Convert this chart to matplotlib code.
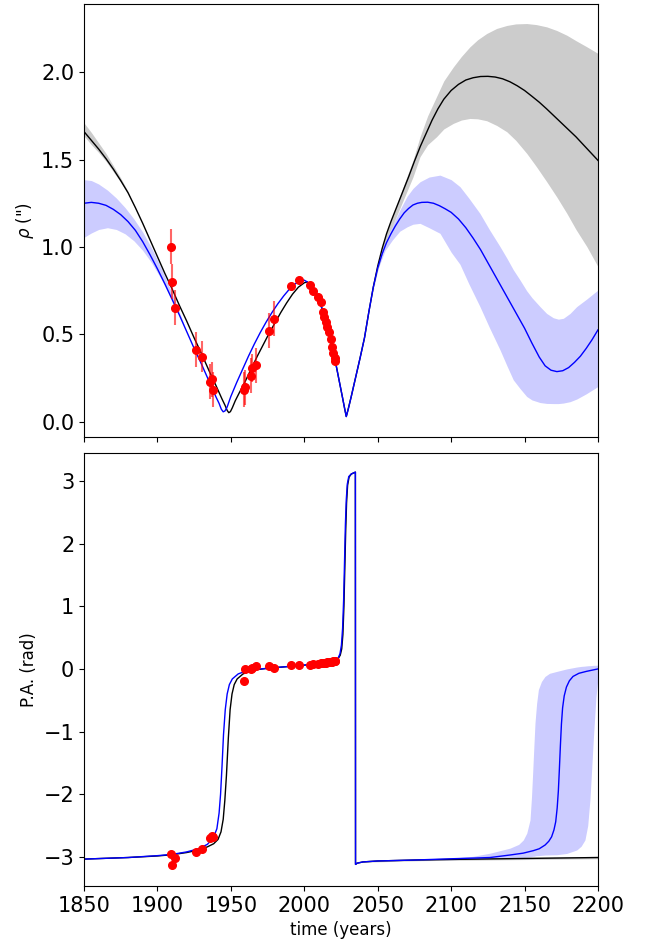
import matplotlib
matplotlib.use("Agg")
import matplotlib.pyplot as plt

# ---------------- separation (rho) ----------------
# best-fit orbit (black)
rho_fit_years = [1850, 1855, 1860, 1865, 1870, 1875, 1880, 1885, 1890, 1895, 1900, 1905,
                 1910, 1915, 1920, 1925, 1930, 1935, 1940, 1944, 1946, 1947.5, 1948.6,
                 1949.7, 1951, 1953, 1956, 1960, 1964, 1968, 1972, 1976, 1980, 1984, 1988,
                 1992, 1996, 2000, 2002, 2004, 2006, 2008, 2010, 2012, 2014, 2016, 2018,
                 2020, 2022, 2024, 2026, 2027.5, 2028.6, 2030, 2032, 2035, 2038, 2041,
                 2044, 2047, 2050, 2053, 2056, 2059, 2063, 2067, 2071, 2075, 2079, 2083,
                 2087, 2091, 2095, 2100, 2105, 2110, 2115, 2120, 2125, 2130, 2135, 2140,
                 2145, 2150, 2155, 2160, 2165, 2170, 2175, 2180, 2185, 2190, 2195, 2200]
rho_fit = [1.66, 1.61, 1.56, 1.505, 1.445, 1.38, 1.31, 1.225, 1.135, 1.04, 0.945, 0.85,
           0.76, 0.665, 0.575, 0.48, 0.39, 0.295, 0.205, 0.13, 0.095, 0.065, 0.052,
           0.058, 0.08, 0.12, 0.17, 0.235, 0.305, 0.375, 0.44, 0.505, 0.565, 0.625, 0.68,
           0.73, 0.77, 0.795, 0.80, 0.78, 0.75, 0.725, 0.695, 0.65, 0.59, 0.53, 0.465,
           0.39, 0.31, 0.225, 0.14, 0.075, 0.03, 0.075, 0.145, 0.255, 0.365, 0.48,
           0.63, 0.77, 0.89, 0.99, 1.075, 1.145, 1.23, 1.315, 1.40, 1.49, 1.575, 1.65,
           1.725, 1.79, 1.845, 1.895, 1.93, 1.955, 1.968, 1.975, 1.976, 1.972, 1.962, 1.945,
           1.922, 1.895, 1.862, 1.828, 1.79, 1.75, 1.71, 1.67, 1.63, 1.585, 1.54, 1.495]

# second orbit solution (blue)
rho_alt_years = [1850, 1855, 1860, 1865, 1870, 1875, 1880, 1885, 1890, 1895, 1900, 1905,
                 1910, 1915, 1920, 1925, 1930, 1935, 1940, 1942, 1943.5, 1944.8, 1946,
                 1947.5, 1950, 1954, 1958, 1962, 1966, 1970, 1974, 1978, 1982, 1986, 1990,
                 1994, 1997, 2000, 2002, 2004, 2006, 2008, 2010, 2012, 2014, 2016, 2018,
                 2020, 2022, 2024, 2026, 2027.5, 2028.6, 2030, 2032, 2035, 2038, 2041,
                 2044, 2047, 2050, 2053, 2056, 2059, 2062, 2065, 2068, 2071, 2074, 2077,
                 2080, 2084, 2088, 2092, 2096, 2100, 2105, 2110, 2115, 2120, 2125, 2130,
                 2135, 2140, 2145, 2150, 2155, 2160, 2164, 2168, 2172, 2176, 2180, 2184,
                 2188, 2192, 2196, 2200]
rho_alt = [1.25, 1.255, 1.25, 1.238, 1.215, 1.185, 1.145, 1.095, 1.03, 0.955, 0.875, 0.79,
           0.70, 0.61, 0.515, 0.42, 0.33, 0.235, 0.14, 0.105, 0.072, 0.057, 0.062,
           0.085, 0.145, 0.225, 0.30, 0.375, 0.445, 0.51, 0.57, 0.625, 0.675, 0.72, 0.76,
           0.79, 0.807, 0.81, 0.80, 0.78, 0.75, 0.725, 0.695, 0.65, 0.59, 0.53, 0.465,
           0.39, 0.31, 0.225, 0.14, 0.075, 0.03, 0.075, 0.145, 0.255, 0.365, 0.48,
           0.63, 0.77, 0.88, 0.96, 1.025, 1.075, 1.12, 1.16, 1.195, 1.22, 1.24, 1.25,
           1.255, 1.256, 1.25, 1.236, 1.218, 1.198, 1.16, 1.11, 1.05, 0.985, 0.91, 0.835,
           0.76, 0.685, 0.61, 0.535, 0.45, 0.37, 0.32, 0.295, 0.287, 0.292, 0.31, 0.34,
           0.375, 0.42, 0.47, 0.526]

# uncertainty envelopes
rho_fit_band_early_years = [1850, 1855, 1860, 1865, 1870, 1875, 1880, 1886]
rho_fit_band_early_hi = [1.71, 1.655, 1.595, 1.535, 1.465, 1.395, 1.318, 1.20]
rho_fit_band_early_lo = [1.635, 1.585, 1.54, 1.49, 1.43, 1.37, 1.305, 1.20]
rho_fit_band_late_years = [2047, 2055, 2060, 2065, 2070, 2074, 2078.8, 2084, 2090, 2095,
                           2101.5, 2107, 2112.8, 2118, 2124.2, 2131, 2137.9, 2144, 2151.5,
                           2158, 2165.1, 2172, 2178.8, 2185, 2192.4, 2200]
rho_fit_band_late_hi = [0.77, 1.06, 1.17, 1.29, 1.405, 1.495, 1.63, 1.75, 1.859, 1.95,
                        2.03, 2.09, 2.145, 2.185, 2.221, 2.25, 2.267, 2.276, 2.278,
                        2.272, 2.259, 2.238, 2.211, 2.18, 2.145, 2.107]
rho_fit_band_late_lo = [0.77, 1.025, 1.12, 1.22, 1.32, 1.40, 1.516, 1.585, 1.63, 1.675,
                        1.707, 1.726, 1.735, 1.733, 1.722, 1.695, 1.659, 1.61, 1.535,
                        1.46, 1.373, 1.285, 1.192, 1.10, 1.002, 0.887]

rho_alt_band_early_years = [1850, 1855, 1860, 1866, 1872, 1878, 1884, 1890, 1896, 1902,
                            1908, 1914, 1918]
rho_alt_band_early_hi = [1.385, 1.38, 1.36, 1.325, 1.28, 1.225, 1.16, 1.085, 0.995, 0.89,
                         0.775, 0.65, 0.56]
rho_alt_band_early_lo = [1.055, 1.08, 1.10, 1.11, 1.10, 1.075, 1.035, 0.98, 0.91, 0.825,
                         0.73, 0.625, 0.555]
rho_alt_band_late_years = [2046, 2050, 2055, 2060, 2065, 2070, 2074, 2078.8, 2085, 2092.4,
                           2100, 2106, 2112, 2119.6, 2126, 2133.3, 2138, 2142.3, 2146.9,
                           2151.4, 2155, 2160.5, 2165, 2169.6, 2173, 2176.4, 2181, 2185.5,
                           2192, 2200]
rho_alt_band_late_hi = [0.71, 0.89, 1.02, 1.12, 1.21, 1.29, 1.335, 1.373, 1.40, 1.411,
                        1.385, 1.345, 1.28, 1.192, 1.10, 1.002, 0.935, 0.87, 0.811,
                        0.75, 0.71, 0.659, 0.62, 0.595, 0.587, 0.592, 0.62, 0.659,
                        0.70, 0.754]
rho_alt_band_late_lo = [0.71, 0.87, 0.98, 1.04, 1.09, 1.115, 1.13, 1.135, 1.11, 1.078,
                        0.97, 0.901, 0.79, 0.659, 0.54, 0.411, 0.32, 0.24, 0.19,
                        0.145, 0.125, 0.11, 0.105, 0.104, 0.104, 0.107, 0.115, 0.13,
                        0.16, 0.202]

# ---------------- position angle ----------------
pa_fit_years = [1850, 1880, 1900, 1910, 1920, 1928, 1934, 1938.3, 1941.3, 1943.3, 1944.8,
                1945.9, 1947.0, 1948.3, 1949.5, 1950.8, 1952.3, 1954.3, 1958.3, 1965, 1975,
                1990, 2000, 2010, 2018, 2021, 2023, 2024.5, 2025.5, 2026.3, 2027, 2027.6,
                2028.2, 2028.8, 2029.5, 2030.5, 2032, 2034.8, 2034.9, 2036, 2040, 2050,
                2075, 2100, 2150, 2200]
pa_fit = [-3.035, -3.01, -2.985, -2.965, -2.93, -2.89, -2.84, -2.79, -2.72, -2.60, -2.40,
          -2.10, -1.70, -1.10, -0.65, -0.40, -0.25, -0.16, -0.08, -0.02, 0.01,
          0.04, 0.06, 0.085, 0.11, 0.13, 0.16, 0.22, 0.32, 0.55, 1.0, 1.6,
          2.2, 2.65, 2.93, 3.06, 3.11, 3.14, -3.12, -3.10, -3.08, -3.065,
          -3.05, -3.04, -3.025, -3.01]

pa_alt_years = [1850, 1880, 1900, 1910, 1920, 1928, 1934, 1938, 1940.5, 1942, 1943, 1944,
                1945, 1946.2, 1947.5, 1949, 1951, 1955, 1962, 1975, 1990, 2000, 2010, 2018,
                2021, 2023, 2024.3, 2025.3, 2026.1, 2026.8, 2027.4, 2028, 2028.6, 2029.3,
                2030.3, 2032, 2034.8, 2034.9, 2036, 2040, 2050, 2075, 2100, 2126.5, 2140,
                2149.1, 2156, 2160, 2164, 2166.5, 2168.4, 2170, 2171.2, 2172.2, 2173,
                2173.7, 2174.4, 2175.1, 2175.9, 2177, 2178.5, 2180.5, 2183, 2187, 2192,
                2196, 2200]
pa_alt = [-3.035, -3.01, -2.98, -2.96, -2.92, -2.87, -2.80, -2.70, -2.55, -2.30, -2.0, -1.55,
          -1.05, -0.65, -0.40, -0.25, -0.16, -0.08, -0.02, 0.01, 0.04, 0.06, 0.085, 0.11,
          0.13, 0.17, 0.24, 0.38, 0.65, 1.1, 1.7, 2.3, 2.7, 2.95,
          3.07, 3.11, 3.14, -3.12, -3.10, -3.08, -3.065, -3.05, -3.03, -3.01, -2.97,
          -2.94, -2.90, -2.87, -2.81, -2.75, -2.68, -2.57, -2.44, -2.22, -1.95,
          -1.60, -1.22, -0.88, -0.62, -0.43, -0.29, -0.19, -0.12, -0.07, -0.04,
          -0.02, 0.0]

pa_fit_band_years = [2040, 2080, 2120, 2160, 2200]
pa_fit_band_hi = [-3.075, -3.04, -3.02, -3.005, -2.99]
pa_fit_band_lo = [-3.085, -3.06, -3.05, -3.04, -3.03]

pa_alt_band_years = [2080, 2100, 2115, 2126.5, 2140.1, 2146, 2149.1, 2151.5, 2153.7, 2154.7,
                     2155.5, 2156.3, 2157.1, 2158.2, 2159.4, 2161.5, 2163.9, 2167, 2171.9,
                     2178.7, 2185.5, 2188.5, 2191.1, 2193, 2194.5, 2195.7, 2196.8, 2198.6,
                     2200]
pa_alt_band_hi = [-3.05, -3.02, -2.99, -2.94, -2.86, -2.80, -2.73, -2.62, -2.41, -2.05,
                  -1.66, -1.25, -0.86, -0.55, -0.33, -0.20, -0.12, -0.07, -0.04,
                  0.0, 0.03, 0.04, 0.045, 0.05, 0.052, 0.055, 0.057, 0.058, 0.06]
pa_alt_band_lo = [-3.055, -3.045, -3.035, -3.025, -3.02, -3.015, -3.01, -3.005, -3.0, -2.995,
                  -2.99, -2.99, -2.985, -2.98, -2.98, -2.975, -2.97, -2.968, -2.965,
                  -2.945, -2.89, -2.83, -2.73, -2.50, -2.09, -1.60, -1.13, -0.45, -0.15]

# ---------------- measurements ----------------
obs_years = [1909.0, 1909.9, 1912.2, 1926.0, 1930.1, 1935.8, 1937.4, 1937.6, 1959.2, 1959.6,
             1963.7, 1964.4, 1967.1, 1976.0, 1979.2, 1991.2, 1996.2, 2003.9, 2005.9, 2009.1,
             2011.2, 2012.5, 2013.4, 2014.6, 2015.7, 2016.6, 2018.0, 2018.9, 2019.8, 2020.9,
             2021.1]
obs_rho = [1.00, 0.80, 0.653, 0.411, 0.373, 0.230, 0.244, 0.183, 0.183, 0.198,
           0.263, 0.305, 0.322, 0.522, 0.590, 0.777, 0.810, 0.783, 0.747, 0.716,
           0.688, 0.630, 0.602, 0.573, 0.545, 0.516, 0.472, 0.430, 0.396, 0.364,
           0.345]
obs_rho_err = [0.10, 0.10, 0.10, 0.10, 0.09, 0.10, 0.10, 0.10, 0.10, 0.10,
               0.10, 0.08, 0.10, 0.10, 0.10, 0.01, 0.01, 0.01, 0.01, 0.01,
               0.01, 0.01, 0.01, 0.01, 0.01, 0.01, 0.01, 0.01, 0.01, 0.01,
               0.01]
obs_pa = [-2.955, -3.13, -3.01, -2.92, -2.88, -2.70, -2.67, -2.69, -0.198, 0.0,
          0.0, 0.016, 0.043, 0.043, 0.016, 0.058, 0.058, 0.058, 0.075, 0.085,
          0.09, 0.095, 0.10, 0.10, 0.105, 0.11, 0.11, 0.115, 0.12, 0.125,
          0.13]

year_ticks = [1850, 1900, 1950, 2000, 2050, 2100, 2150, 2200]
rho_ticks = [0.0, 0.5, 1.0, 1.5, 2.0]
pa_ticks = [-3, -2, -1, 0, 1, 2, 3]

# ---------------- figure ----------------
fig = plt.figure(figsize=(6.46, 9.43), dpi=100)
ax1 = fig.add_axes([0.130, 0.5366, 0.7957, 0.4592])
ax2 = fig.add_axes([0.130, 0.0604, 0.7957, 0.4592], sharex=ax1)

# top panel: separation
ax1.fill_between(rho_fit_band_early_years, rho_fit_band_early_lo, rho_fit_band_early_hi,
                 color="black", alpha=0.2, lw=0)
ax1.fill_between(rho_fit_band_late_years, rho_fit_band_late_lo, rho_fit_band_late_hi,
                 color="black", alpha=0.2, lw=0)
ax1.fill_between(rho_alt_band_early_years, rho_alt_band_early_lo, rho_alt_band_early_hi,
                 color="blue", alpha=0.2, lw=0)
ax1.fill_between(rho_alt_band_late_years, rho_alt_band_late_lo, rho_alt_band_late_hi,
                 color="blue", alpha=0.2, lw=0)
ax1.plot(rho_fit_years, rho_fit, color="black", lw=1.0)
ax1.plot(rho_alt_years, rho_alt, color="blue", lw=1.0)
ax1.errorbar(obs_years, obs_rho, yerr=obs_rho_err, fmt="o", color="red", ms=5.5,
             ecolor=(1, 0, 0, 0.6), elinewidth=1.5, capsize=0, zorder=5)
ax1.set_ylabel('$\\rho$ (")', fontsize=12)
ax1.set_ylim(-0.087, 2.39)
ax1.set_yticks(rho_ticks)
ax1.tick_params(axis="both", labelsize=15)
ax1.tick_params(axis="x", labelbottom=False)

# bottom panel: position angle
ax2.fill_between(pa_fit_band_years, pa_fit_band_lo, pa_fit_band_hi,
                 color="black", alpha=0.2, lw=0)
ax2.fill_between(pa_alt_band_years, pa_alt_band_lo, pa_alt_band_hi,
                 color="blue", alpha=0.2, lw=0)
ax2.plot(pa_fit_years, pa_fit, color="black", lw=1.0)
ax2.plot(pa_alt_years, pa_alt, color="blue", lw=1.0)
ax2.plot(obs_years, obs_pa, "o", color="red", ms=5.5, zorder=5)
ax2.set_ylabel("P.A. (rad)", fontsize=12)
ax2.set_xlabel("time (years)", fontsize=12)
ax2.set_ylim(-3.465, 3.445)
ax2.set_yticks(pa_ticks)
ax2.set_xlim(1850, 2200)
ax2.set_xticks(year_ticks)
ax2.tick_params(axis="both", labelsize=15)

fig.savefig("out.png", dpi=100)
